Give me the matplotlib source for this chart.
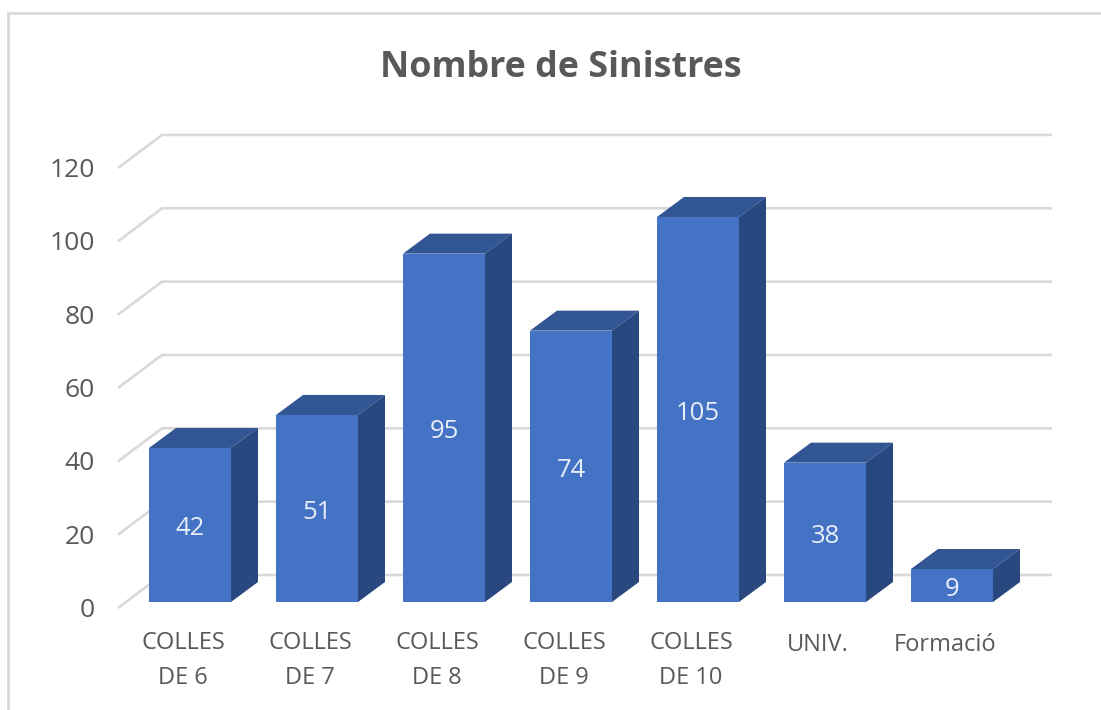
import matplotlib
matplotlib.use('Agg')
from matplotlib import pyplot as plt
from matplotlib.patches import Polygon, Rectangle

categories = ['COLLES\nDE 6', 'COLLES\nDE 7', 'COLLES\nDE 8', 'COLLES\nDE 9', 'COLLES\nDE 10', 'UNIV.', 'Formació']
values = [42, 51, 95, 74, 105, 38, 9]
y_ticks = [0, 20, 40, 60, 80, 100, 120]
title = 'Nombre de Sinistres'

FRONT = '#4472C4'
TOP = '#325594'
SIDE = '#2A4880'
GRID = '#D9D9D9'
TEXT = '#595959'

W, H = 1101, 710
# pixel scale of the picture: one category step and one value unit
STEP_PX = 127.0
UNIT_PX = 3.667
X0_PX = 190.0
Y0_PX = 602.0


def px_x(n):
	return n / STEP_PX


def px_y(n):
	return n / UNIT_PX


def draw_grid(ax):
	left = px_x(118 - X0_PX)
	back = px_x(162 - X0_PX)
	right = px_x(1052 - X0_PX)
	front_off = px_y(-6)
	back_off = px_y(27)
	for v in y_ticks:
		ax.plot([left, back, right], [v + front_off, v + back_off, v + back_off],
			color=GRID, lw=1.9, solid_joinstyle='miter', solid_capstyle='butt', zorder=1)
		ax.text(px_x(95 - X0_PX), v + px_y(-8.5), str(v), ha='right', va='center',
			fontsize=19, color=TEXT, zorder=5)


def draw_bars(ax):
	width = 82 / STEP_PX
	dx = px_x(27)
	dy = px_y(20)
	for i, v in enumerate(values):
		x0 = i - width / 2
		x1 = i + width / 2
		ax.add_patch(Polygon([(x0, v), (x1, v), (x1 + dx, v + dy), (x0 + dx, v + dy)],
			closed=True, facecolor=TOP, edgecolor='none', zorder=3))
		ax.add_patch(Polygon([(x1, 0), (x1 + dx, dy), (x1 + dx, v + dy), (x1, v)],
			closed=True, facecolor=SIDE, edgecolor='none', zorder=3))
		ax.add_patch(Rectangle((x0, 0), width, v, facecolor=FRONT, edgecolor='none', zorder=4))
		ax.text(i, v / 2 + px_y(-4), str(v), ha='center', va='center', fontsize=18.5, color='#E8EEF8', zorder=5)


def main():
	plt.rcParams['font.family'] = ['Open Sans', 'DejaVu Sans']
	fig = plt.figure(figsize=(W / 100, H / 100), dpi=100)
	ax = fig.add_axes([0, 0, 1, 1])
	ax.set_xlim(-X0_PX / STEP_PX, (W - X0_PX) / STEP_PX)
	ax.set_ylim((Y0_PX - H) / UNIT_PX, Y0_PX / UNIT_PX)
	ax.axis('off')

	# chart frame, clipped by the picture on the right and at the bottom
	ax.plot([px_x(8 - X0_PX), px_x(8 - X0_PX), px_x(W - X0_PX)],
		[px_y(Y0_PX - H), px_y(Y0_PX - 13), px_y(Y0_PX - 13)],
		color=GRID, lw=2.0, solid_joinstyle='miter', zorder=1)

	draw_grid(ax)
	draw_bars(ax)

	for i, label in enumerate(categories):
		ax.text(i + px_x(-7), px_y(Y0_PX - 643 - 17.5) if '\n' in label else px_y(Y0_PX - 645),
			label, ha='center', va='center', fontsize=17, color=TEXT, linespacing=1.62)

	ax.text(px_x(561 - X0_PX), px_y(Y0_PX - 68), title, ha='center', va='center',
		fontsize=25.8, fontweight='bold', color=TEXT)

	fig.savefig('out.png', dpi=100)


if __name__ == "__main__":
	main()
